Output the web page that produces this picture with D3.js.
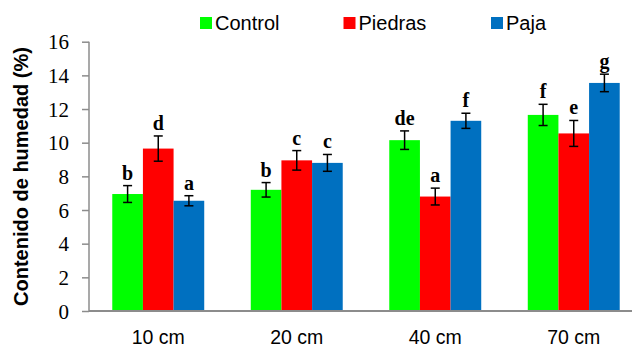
<!DOCTYPE html>
<html>
<head>
<meta charset="utf-8">
<script src="https://cdn.jsdelivr.net/npm/d3@7"></script>
<style>
  body { margin: 0; background: #fff; }
  svg { display: block; }
  .serif { font-family: "Liberation Serif", "Times New Roman", serif; }
  .sans { font-family: "Liberation Sans", Arial, sans-serif; }
</style>
</head>
<body>
<div id="chart"></div>
<script>
// data
var depths = ["10 cm", "20 cm", "40 cm", "70 cm"];
var series = ["Control", "Piedras", "Paja"];
var colors = ["#00ff00", "#ff0000", "#0070c0"];

var control = [6.95, 7.2, 10.15, 11.65];
var piedras = [9.65, 8.95, 6.8, 10.55];
var paja    = [6.55, 8.8, 11.3, 13.55];

var controlErr = [0.5, 0.43, 0.55, 0.63];
var piedrasErr = [0.75, 0.58, 0.5, 0.77];
var pajaErr    = [0.3, 0.5, 0.45, 0.52];

var controlLetters = ["b", "b", "de", "f"];
var piedrasLetters = ["d", "c", "a", "e"];
var pajaLetters    = ["a", "c", "f", "g"];

var yTicks = [0, 2, 4, 6, 8, 10, 12, 14, 16];

var width = 632, height = 347;
var x0Left = 89, yZero = 311, yTop = 41.7;

var values = [control, piedras, paja];
var errs = [controlErr, piedrasErr, pajaErr];
var letters = [controlLetters, piedrasLetters, pajaLetters];

var rows = [];
depths.forEach(function(d, i) {
    series.forEach(function(s, j) {
        rows.push({ depth: d, serie: s, si: j, v: values[j][i], e: errs[j][i], l: letters[j][i] });
    });
});

//
// Scales
//
var x0 = d3.scaleBand().domain(depths)
    .range([x0Left, x0Left + 4 * 138.5])
    .paddingInner(0.336).paddingOuter(0.168);

var x1 = d3.scaleBand().domain(series).range([0, x0.bandwidth()]);

var y = d3.scaleLinear().domain([0, 16]).range([yZero, yTop]);

var svg = d3.select("#chart").append("svg")
    .attr("width", width)
    .attr("height", height);

// bars
svg.append("g").selectAll("rect")
    .data(rows).enter().append("rect")
    .attr("x", function(d) { return x0(d.depth) + x1(d.serie); })
    .attr("width", x1.bandwidth())
    .attr("y", function(d) { return y(d.v); })
    .attr("height", function(d) { return y(0) - y(d.v); })
    .attr("fill", function(d) { return colors[d.si]; });

// error bars
var eb = svg.append("g").attr("stroke", "#000").attr("stroke-width", 1.5);
rows.forEach(function(d) {
    var cx = x0(d.depth) + x1(d.serie) + x1.bandwidth() / 2;
    eb.append("line").attr("x1", cx).attr("x2", cx)
        .attr("y1", y(d.v + d.e)).attr("y2", y(d.v - d.e));
    eb.append("line").attr("x1", cx - 4.5).attr("x2", cx + 4.5)
        .attr("y1", y(d.v + d.e)).attr("y2", y(d.v + d.e));
    eb.append("line").attr("x1", cx - 4.5).attr("x2", cx + 4.5)
        .attr("y1", y(d.v - d.e)).attr("y2", y(d.v - d.e));
});

// significance letters
svg.append("g").selectAll("text")
    .data(rows).enter().append("text")
    .attr("class", "serif")
    .attr("x", function(d) { return x0(d.depth) + x1(d.serie) + x1.bandwidth() / 2; })
    .attr("y", function(d) { return y(d.v + d.e) - 6; })
    .attr("text-anchor", "middle")
    .style("font-weight", "bold")
    .style("font-size", "20px")
    .text(function(d) { return d.l; });

// y axis
var yAxis = svg.append("g")
    .attr("transform", "translate(" + x0Left + ",0)")
    .call(d3.axisLeft(y).tickValues(yTicks).tickSize(7).tickPadding(13).tickSizeOuter(0));
yAxis.select(".domain").attr("stroke", "#8c8c8c").attr("stroke-width", 1.5)
    .attr("d", "M0," + yTop + "V" + yZero);
yAxis.selectAll(".tick line").attr("stroke", "#8c8c8c").attr("stroke-width", 1.5);
yAxis.selectAll(".tick text")
    .attr("class", "serif")
    .style("font-family", "'Liberation Serif', 'Times New Roman', serif")
    .style("font-size", "21px")
    .attr("fill", "#000")
    .attr("dy", "0.34em");

// x axis
var xAxis = svg.append("g")
    .attr("transform", "translate(0," + yZero + ")")
    .call(d3.axisBottom(x0).tickSize(0).tickSizeOuter(0).tickPadding(19));
xAxis.select(".domain").attr("stroke", "#8c8c8c").attr("stroke-width", 2)
    .attr("d", "M" + x0Left + ",0H" + width);
xAxis.selectAll(".tick text")
    .style("font-family", "'Liberation Sans', Arial, sans-serif")
    .style("font-size", "19.5px")
    .attr("fill", "#000")
    .attr("dy", "0.71em");

// y title
svg.append("text")
    .attr("class", "sans")
    .attr("transform", "translate(28," + 176.5 + ") rotate(-90)")
    .attr("text-anchor", "middle")
    .style("font-weight", "bold")
    .style("font-size", "20px")
    .text("Contenido de humedad (%)");

// legend
var legendX = [200, 343.5, 491];
var legend = svg.append("g").selectAll("g")
    .data(series).enter().append("g")
    .attr("transform", function(d, i) { return "translate(" + legendX[i] + ",17)"; });
legend.append("rect")
    .attr("width", 12).attr("height", 12)
    .attr("fill", function(d, i) { return colors[i]; });
legend.append("text")
    .attr("class", "sans")
    .attr("x", 15).attr("y", 13)
    .style("font-size", "20px")
    .text(function(d) { return d; });
</script>
</body>
</html>
